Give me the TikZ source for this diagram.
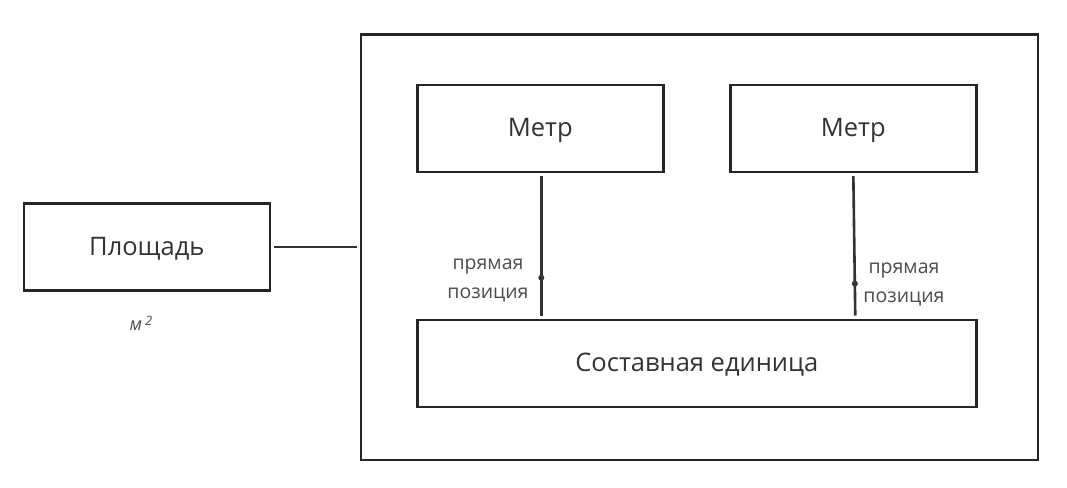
\documentclass[tikz,border=0pt]{standalone}
\usepackage{fontspec}
\setmainfont{Open Sans}
\begin{document}
\begin{tikzpicture}[x=1pt,y=-1pt,
  box/.style={draw=black!85, line width=2.6pt, inner sep=0pt, text=black!80,
    font=\fontsize{25.5}{30}\selectfont, text height=17pt, text depth=0pt, anchor=north west},
  conn/.style={draw=black!80, line width=2.6pt},
  lbl/.style={text=black!70, font=\fontsize{19.5}{29}\selectfont, align=center, inner sep=0pt},
  pin/.style={circle, fill=black!80, inner sep=0pt, minimum size=6pt}]
\useasboundingbox (0,0) rectangle (1067,487);
% frame around the compound unit
\node[box, minimum width=677pt, minimum height=425pt] (frame) at (359.5,33.5) {};
% units
\node[box, minimum width=246pt, minimum height=87pt] (area) at (22.5,202) {Площадь};
\node[box, minimum width=246pt, minimum height=87pt] (m1) at (416,83.5) {Метр};
\node[box, minimum width=246pt, minimum height=87pt] (m2) at (729,83.5) {Метр};
\node[box, minimum width=559pt, minimum height=87pt] (c) at (416,318.5) {Составная единица};
% dimension of the area
\node[text=black!70, font=\fontsize{18}{20}\selectfont\itshape, inner sep=0pt] (dim) at (141,323)
  {м\,\raisebox{0.55ex}{\fontsize{13}{14}\selectfont 2}};
% area attached to the frame
\draw[conn, shorten <=3pt, shorten >=3pt] (area.east) -- (area.east -| frame.west);
% meters placed into the compound unit
\draw[conn, shorten <=3pt, shorten >=3pt] ([xshift=1pt]m1.south) -- ([xshift=1pt]m1.south |- c.north)
  node[pin, pos=0.72] (p1) {};
\draw[conn, shorten <=3pt, shorten >=3pt] (m2.south) -- ([xshift=2pt]m2.south |- c.north)
  node[pin, pos=0.76] (p2) {};
\node[lbl] (l1) at (488,280) {прямая\\позиция};
\node[lbl] (l2) at (904,284) {прямая\\позиция};
\end{tikzpicture}
\end{document}
